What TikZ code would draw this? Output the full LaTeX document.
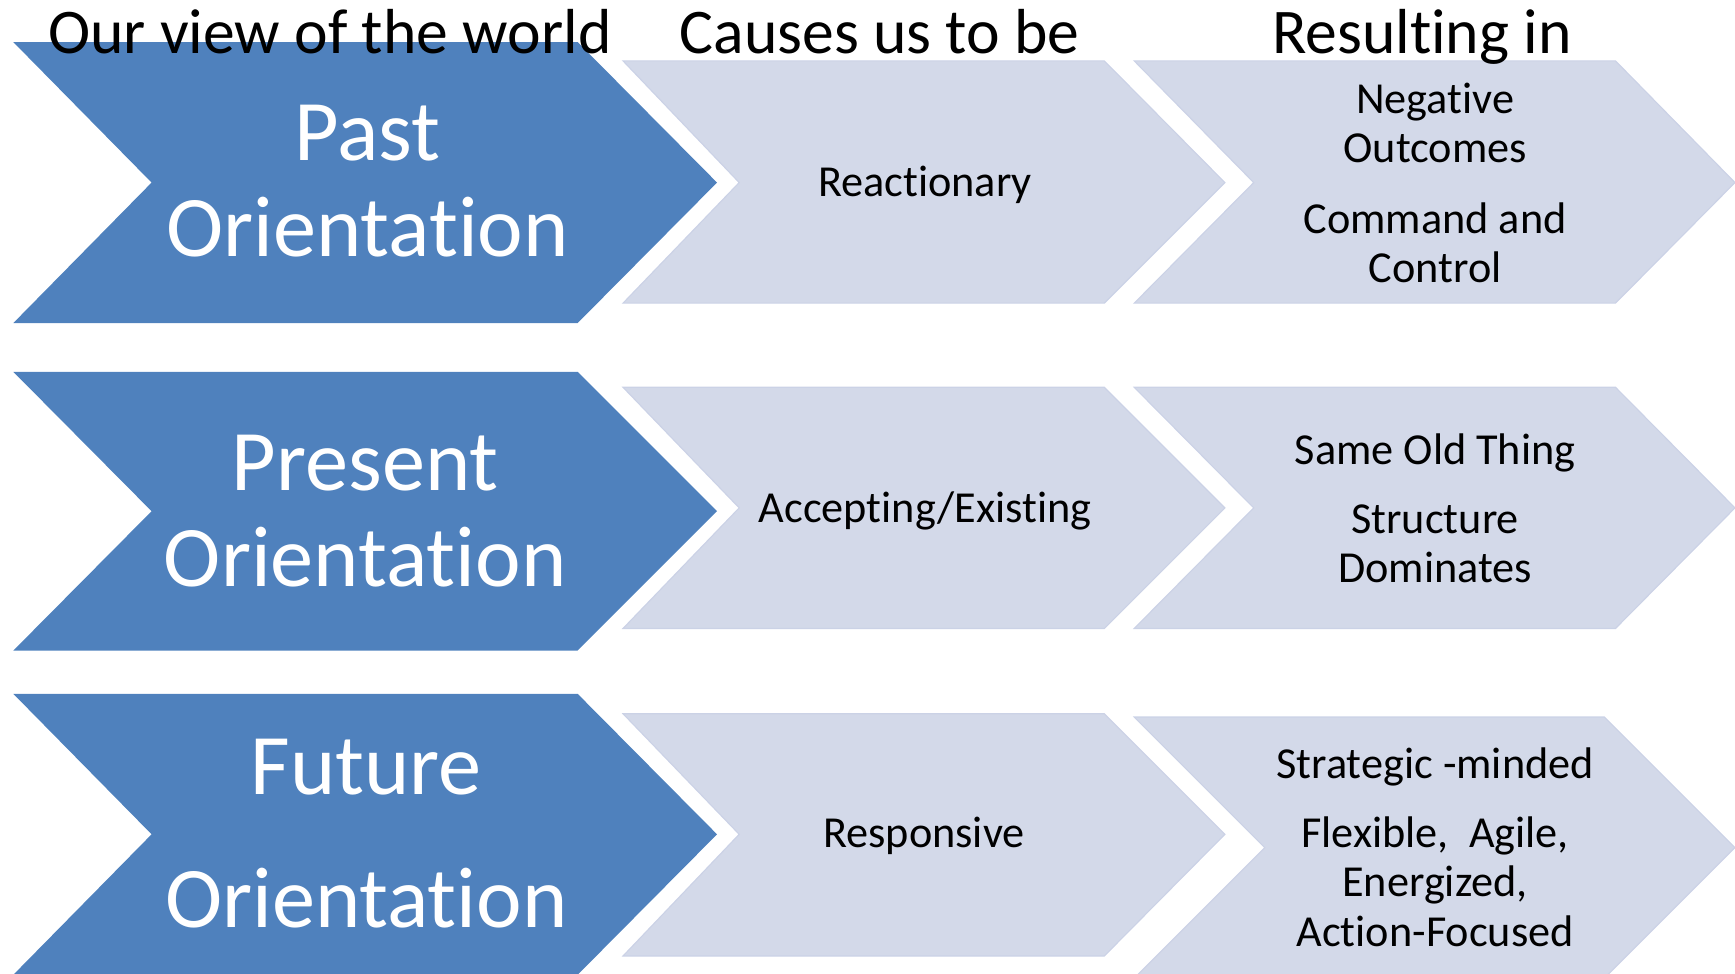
\documentclass[tikz,border=0pt]{standalone}
\usepackage{fontspec}
\setmainfont{Carlito}[Ligatures=NoCommon]
\newcommand\nolig{\kern0pt{}}
\definecolor{darkblue}{HTML}{4F81BD}
\definecolor{lightblue}{HTML}{D3D9E9}
\definecolor{lightedge}{HTML}{CBD2E6}
\begin{document}
\begin{tikzpicture}[x=1pt,y=-1pt,
  darkchev/.style={fill=darkblue},
  lightchev/.style={fill=lightblue,draw=lightedge,line width=1pt},
  head/.style={font=\fontsize{57.5}{60}\selectfont,anchor=base,inner sep=0pt},
  big/.style={font=\fontsize{78}{87}\selectfont,text=white,anchor=base,inner sep=0pt},
  small/.style={font=\fontsize{40}{44}\selectfont,anchor=base,inner sep=0pt}]
\useasboundingbox (0,0) rectangle (1568,880);
% row 1
\fill[darkchev] (12,38) -- (522,38) -- (648,165) -- (522,292) -- (12,292) -- (137,165) -- cycle;
\filldraw[lightchev] (563,55) -- (998,55) -- (1107,165) -- (998,274) -- (563,274) -- (668,165) -- cycle;
\filldraw[lightchev] (1025,55) -- (1460,55) -- (1568,165) -- (1460,274) -- (1025,274) -- (1133,165) -- cycle;
% row 2
\fill[darkchev] (12,336) -- (522,336) -- (648,462) -- (522,588) -- (12,588) -- (137,462) -- cycle;
\filldraw[lightchev] (563,350) -- (998,350) -- (1107,459) -- (998,568) -- (563,568) -- (668,459) -- cycle;
\filldraw[lightchev] (1025,350) -- (1460,350) -- (1568,459) -- (1460,568) -- (1025,568) -- (1133,459) -- cycle;
% row 3
\fill[darkchev] (12,627) -- (522,627) -- (648,754) -- (522,881) -- (12,881) -- (137,754) -- cycle;
\filldraw[lightchev] (563,645) -- (998,645) -- (1107,754) -- (998,864) -- (563,864) -- (668,754) -- cycle;
\filldraw[lightchev] (1025,648) -- (1450,648) -- (1568,766) -- (1450,884) -- (1025,884) -- (1143,766) -- cycle;
% headings
\node[head] (h1) at (298,48) {Our view of the world};
\node[head] (h2) at (795,48) {Causes us to be};
\node[head] (h3) at (1285,48) {Resulting in};
% big labels
\node[big] (p1) at (332,145) {Past};
\node[big] (p2) at (332,232) {Orientat\nolig ion};
\node[big] (q1) at (330,443) {Present};
\node[big] (q2) at (330,530) {Orientat\nolig ion};
\node[big] (f1) at (331,718) {Future};
\node[big] (f2) at (331,838) {Orientat\nolig ion};
% middle column
\node[small] (m1) at (836,178) {React\nolig ionary};
\node[small] (m2) at (836,472) {Accepting/Existing};
\node[small] (m3) at (835,766) {Responsive};
% right column
\node[small] (r1a) at (1297,103) {Negat\nolig ive};
\node[small] (r1b) at (1297,147) {Outcomes};
\node[small] (r1c) at (1297,211) {Command and};
\node[small] (r1d) at (1297,255) {Control};
\node[small] (r2a) at (1297,420) {Same Old Thing};
\node[small] (r2b) at (1297,482) {Structure};
\node[small] (r2c) at (1297,526) {Dominates};
\node[small] (r3a) at (1297,704) {Strategic -minded};
\node[small] (r3b) at (1297,766) {Flexible,\ \ Agile,};
\node[small] (r3c) at (1297,810) {Energized,};
\node[small] (r3d) at (1297,855) {Act\nolig ion-Focused};
\end{tikzpicture}
\end{document}
